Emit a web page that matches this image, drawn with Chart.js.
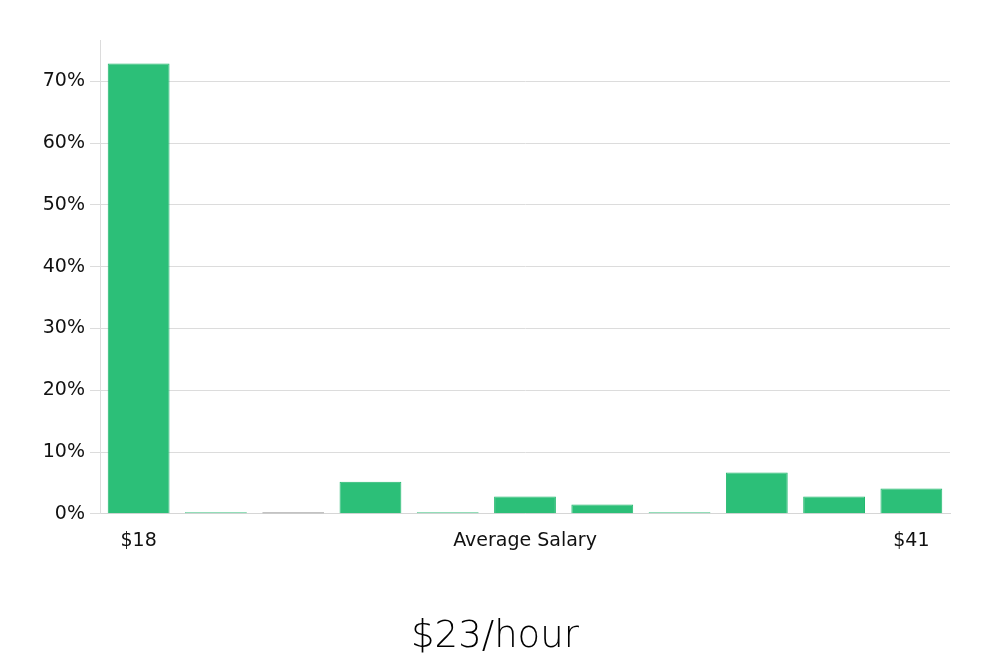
<!DOCTYPE html>
<html>
<head>
<meta charset="utf-8">
<script src="https://cdn.jsdelivr.net/npm/chart.js@4.4.0/dist/chart.umd.min.js"></script>
<style>
  html, body { margin: 0; padding: 0; background: #fff; }
  #wrap { width: 1000px; height: 660px; }
</style>
</head>
<body>
<div id="wrap"><canvas id="grafica" width="1000" height="660"></canvas></div>
<script>
const etiquetas = ["$18", "", "", "", "", "Average Salary", "", "", "", "", "$41"];
const porcentajes = [72.9, 0.25, 0.2, 5.2, 0.25, 2.8, 1.5, 0.25, 6.7, 2.8, 4.1];
const colores = ["#2cbf78", "#2cbf78", "#111111", "#2cbf78", "#2cbf78", "#2cbf78", "#2cbf78", "#2cbf78", "#2cbf78", "#2cbf78", "#2cbf78"];
const bordes = ["#22b86e", "#22b86e", "#111111", "#22b86e", "#22b86e", "#22b86e", "#22b86e", "#22b86e", "#22b86e", "#22b86e", "#22b86e"];
const titulo = "$23/hour";

const ctx = document.getElementById("grafica").getContext("2d");
new Chart(ctx, {
  type: "bar",
  data: {
    labels: etiquetas,
    datasets: [{
      data: porcentajes,
      backgroundColor: colores,
      borderColor: bordes,
      borderWidth: 1,
      barPercentage: 0.8,
      categoryPercentage: 1
    }]
  },
  options: {
    responsive: false,
    animation: false,
    layout: { padding: { left: 40, right: 50, top: 40, bottom: 0 } },
    plugins: {
      legend: { display: false },
      tooltip: { enabled: false },
      title: {
        display: true,
        position: "bottom",
        text: titulo,
        color: "#000",
        font: { family: "'DejaVu Sans'", size: 37, weight: 200 },
        padding: { top: 47, bottom: 0 }
      }
    },
    scales: {
      x: {
        grid: { display: false, drawTicks: false },
        border: { display: true, color: "#d6d6d6" },
        ticks: {
          autoSkip: false,
          maxRotation: 0,
          padding: 16,
          color: "#111",
          font: { family: "'DejaVu Sans'", size: 19 }
        }
      },
      y: {
        min: 0,
        max: 76.7,
        afterFit: scale => { scale.width = 60; },
        grid: { color: "#dcdcdc", tickLength: 10 },
        border: { display: true, color: "#dcdcdc" },
        ticks: {
          stepSize: 10,
          includeBounds: false,
          padding: 5,
          color: "#111",
          font: { family: "'DejaVu Sans'", size: 19 },
          callback: v => v + "%"
        }
      }
    }
  }
});
</script>
</body>
</html>
